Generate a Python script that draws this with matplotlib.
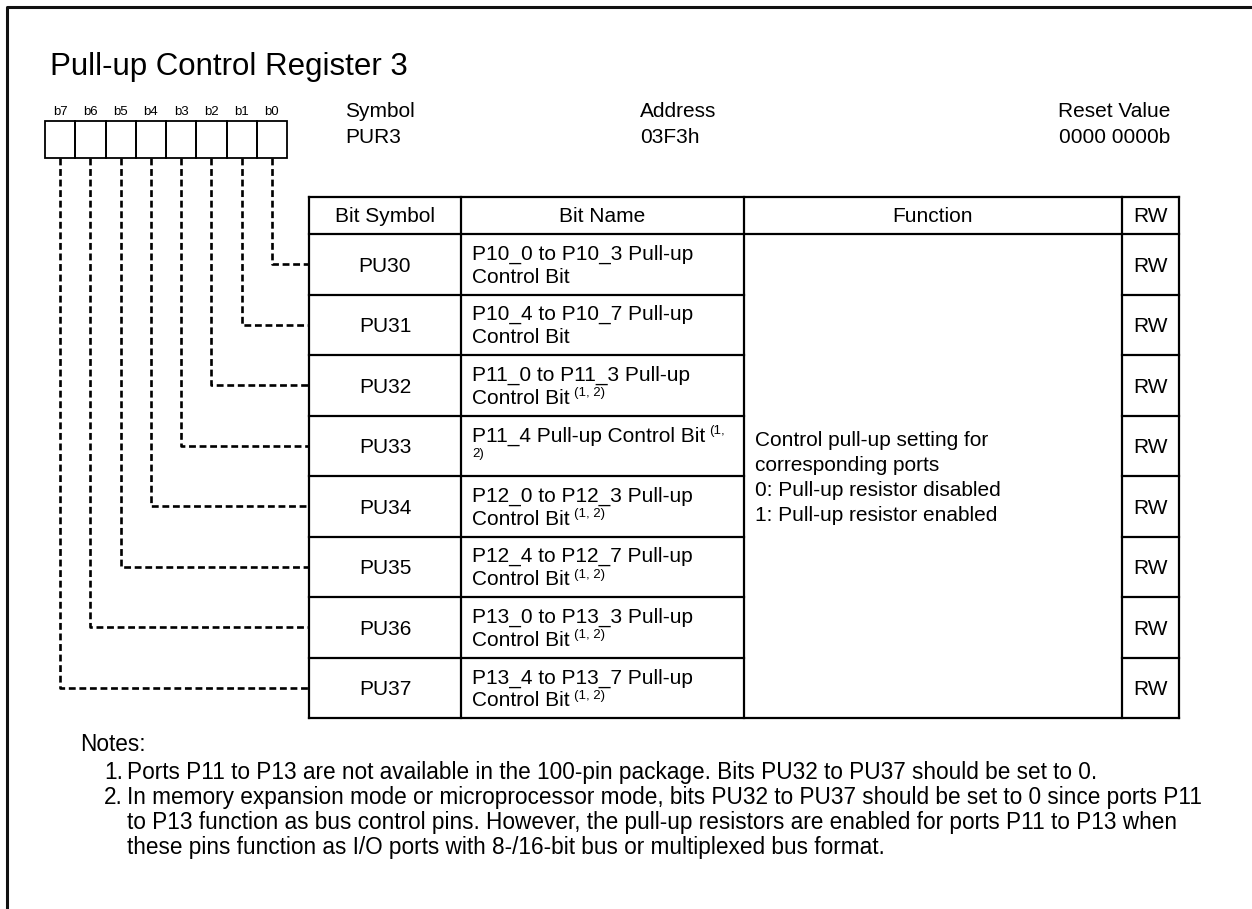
import matplotlib as mpl
import matplotlib.pyplot as plt

mpl.rcParams['font.family'] = ['Liberation Sans', 'DejaVu Sans']

title = 'Pull-up Control Register 3'
bit_labels = ['b7', 'b6', 'b5', 'b4', 'b3', 'b2', 'b1', 'b0']
info_keys = ['Symbol', 'Address', 'Reset Value']
info_vals = ['PUR3', '03F3h', '0000 0000b']
col_titles = ['Bit Symbol', 'Bit Name', 'Function', 'RW']
bit_symbols = ['PU30', 'PU31', 'PU32', 'PU33', 'PU34', 'PU35', 'PU36', 'PU37']
name_line1 = ['P10_0 to P10_3 Pull-up', 'P10_4 to P10_7 Pull-up', 'P11_0 to P11_3 Pull-up',
              'P11_4 Pull-up Control Bit', 'P12_0 to P12_3 Pull-up', 'P12_4 to P12_7 Pull-up',
              'P13_0 to P13_3 Pull-up', 'P13_4 to P13_7 Pull-up']
name_line2 = ['Control Bit', 'Control Bit', 'Control Bit', '', 'Control Bit',
              'Control Bit', 'Control Bit', 'Control Bit']
name_refs = ['', '', '(1, 2)', '(1, 2)', '(1, 2)', '(1, 2)', '(1, 2)', '(1, 2)']
rw = ['RW', 'RW', 'RW', 'RW', 'RW', 'RW', 'RW', 'RW']
function_lines = ['Control pull-up setting for', 'corresponding ports',
                  '0: Pull-up resistor disabled', '1: Pull-up resistor enabled']
notes = [
    ['Ports P11 to P13 are not available in the 100-pin package. Bits PU32 to PU37 should be set to 0.'],
    ['In memory expansion mode or microprocessor mode, bits PU32 to PU37 should be set to 0 since ports P11',
     'to P13 function as bus control pins. However, the pull-up resistors are enabled for ports P11 to P13 when',
     'these pins function as I/O ports with 8-/16-bit bus or multiplexed bus format.'],
]

W, H = 1252, 909
fig = plt.figure(figsize=(W / 100, H / 100), dpi=100)
ax = fig.add_axes([0, 0, 1, 1])
ax.set_xlim(0, W)
ax.set_ylim(H, 0)
ax.axis('off')

fs = 15
lw_tab = 1.6

# outer frame (left + top only)
ax.plot([7, 7, W], [H, 7, 7], color='#111111', lw=2.2, solid_capstyle='butt')

ax.text(50, 75, title, fontsize=22.5, va='baseline')

# register bit boxes
bx0, bw, btop, bbot = 45, 30.25, 121, 158
for i, lab in enumerate(bit_labels):
    x = bx0 + bw * i
    ax.add_patch(plt.Rectangle((x, btop), bw, bbot - btop, fill=False, lw=1.3, ec='black'))
    ax.text(x + bw / 2, 115, lab, fontsize=9.5, ha='center', va='baseline')

# symbol / address / reset value
ax.text(345, 117, info_keys[0], fontsize=fs, va='baseline')
ax.text(345, 143, info_vals[0], fontsize=fs, va='baseline')
ax.text(640, 117, info_keys[1], fontsize=fs, va='baseline')
ax.text(640, 143, info_vals[1], fontsize=fs, va='baseline')
ax.text(1170, 117, info_keys[2], fontsize=fs, va='baseline', ha='right')
ax.text(1170, 143, info_vals[2], fontsize=fs, va='baseline', ha='right')

# table grid
cols = [309, 461, 744, 1122, 1179]
top, hdr, rh = 197, 234, 60.5
bottom = hdr + rh * len(bit_symbols)
for x in cols:
    ax.plot([x, x], [top, bottom], color='black', lw=lw_tab)
ax.plot([cols[0], cols[-1]], [top, top], color='black', lw=lw_tab)
ax.plot([cols[0], cols[-1]], [hdr, hdr], color='black', lw=lw_tab)
ax.plot([cols[0], cols[-1]], [bottom, bottom], color='black', lw=lw_tab)
for r in range(1, len(bit_symbols)):
    y = hdr + rh * r
    ax.plot([cols[0], cols[2]], [y, y], color='black', lw=lw_tab)
    ax.plot([cols[3], cols[4]], [y, y], color='black', lw=lw_tab)

for c, t in enumerate(col_titles):
    ax.text((cols[c] + cols[c + 1]) / 2, (top + hdr) / 2 + 6.5, t, fontsize=fs,
            ha='center', va='baseline')

renderer = fig.canvas.get_renderer()
inv = ax.transData.inverted()


def right_edge(t):
    bb = t.get_window_extent(renderer)
    return inv.transform((bb.x1, bb.y0))[0]


for r, sym in enumerate(bit_symbols):
    yc = hdr + rh * (r + 0.5)
    ax.text((cols[0] + cols[1]) / 2, yc + 7.5, sym, fontsize=fs, ha='center', va='baseline')
    ax.text((cols[3] + cols[4]) / 2, yc + 7.5, rw[r], fontsize=fs, ha='center', va='baseline')
    t1 = ax.text(cols[1] + 11, yc - 4.5, name_line1[r], fontsize=fs, va='baseline')
    ref = name_refs[r]
    if name_line2[r]:
        t2 = ax.text(cols[1] + 11, yc + 18.5, name_line2[r], fontsize=fs, va='baseline')
        if ref:
            ax.text(right_edge(t2) + 4, yc + 11, ref, fontsize=9.5, va='baseline')
    elif ref:
        a, b = ref.split(' ')
        ax.text(right_edge(t1) + 4, yc - 11.5, a, fontsize=9.5, va='baseline')
        ax.text(cols[1] + 11, yc + 11, b, fontsize=9.5, va='baseline')

    # dashed connector from bit box to row
    i = 7 - r
    xc = bx0 + bw * (i + 0.5)
    ax.plot([xc, xc, cols[0]], [bbot, yc, yc], color='black', lw=1.9,
            linestyle=(0, (2.6, 1.4)), dash_capstyle='butt')

for k, line in enumerate(function_lines):
    ax.text(755, 446 + 25 * k, line, fontsize=fs, va='baseline')

# notes
fs_n = 16.3
ax.text(80, 751, 'Notes:', fontsize=fs_n, va='baseline')
y = 779
for n, para in enumerate(notes):
    ax.text(104, y, f'{n + 1}.', fontsize=fs_n, va='baseline')
    for line in para:
        ax.text(127, y, line, fontsize=fs_n, va='baseline')
        y += 25

fig.savefig('out.png', dpi=100, facecolor='white')
